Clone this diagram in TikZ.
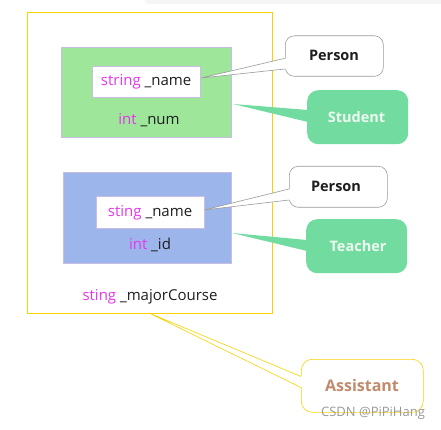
\documentclass[tikz,border=0pt]{standalone}
\usepackage{fontspec}
\setmainfont{Open Sans}
\usetikzlibrary{calc}
\begin{document}
\begin{tikzpicture}[x=1pt,y=-1pt,
  boxline/.style={draw=boxborder,line width=0.7pt,inner sep=0pt,anchor=north west},
  lbl/.style={font=\fontsize{15}{17}\selectfont,text=txtdark,inner sep=0pt},
  callgray/.style={draw=callgrayc,fill=white,line width=0.6pt,rounded corners=9pt,inner sep=0pt,anchor=north west},
  callgreen/.style={fill=calgreen,rounded corners=11pt,inner sep=0pt,anchor=north west},
  callyel/.style={draw=yel,fill=white,line width=0.6pt,rounded corners=11pt,inner sep=0pt,anchor=north west},
  ctext/.style={font=\bfseries\fontsize{14.5}{16}\selectfont,inner sep=0pt}]
\definecolor{boxborder}{HTML}{C9BDE6}
\definecolor{txtdark}{HTML}{1E1E1E}
\definecolor{kwmag}{HTML}{E636EC}
\definecolor{gfill}{HTML}{9EE69A}
\definecolor{bfill}{HTML}{9CB5EA}
\definecolor{yel}{HTML}{F7D200}
\definecolor{callgrayc}{HTML}{9A9A9A}
\definecolor{calgreen}{HTML}{72DBA0}
\definecolor{calgtext}{HTML}{EEF9F0}
\definecolor{asstext}{HTML}{C08B6C}
\useasboundingbox (0,0) rectangle (441,430);
\fill[black!4,rounded corners=3pt] (145,-4) rectangle (445,4);
% outer assistant box
\node[draw=yel,line width=0.7pt,inner sep=0pt,anchor=north west,minimum width=245pt,minimum height=300.5pt] (outer) at (26.5,12.5) {};
% student block
\node[boxline,fill=gfill,minimum width=170pt,minimum height=90pt] (green) at (61,47) {};
\node[boxline,fill=white,minimum width=108.5pt,minimum height=31pt] (name1) at (91.5,66) {};
\node[lbl] (name1t) at (name1.center) {\textcolor{kwmag}{string} \_name};
\node[lbl] (num) at (149,120) {\textcolor{kwmag}{int} \_num};
% teacher block
\node[boxline,fill=bfill,minimum width=168pt,minimum height=90pt] (blue) at (63,172.5) {};
\node[boxline,fill=white,minimum width=107.5pt,minimum height=32pt] (name2) at (96,196) {};
\node[lbl] (name2t) at (name2.center) {\textcolor{kwmag}{sting} \_name};
\node[lbl] (idt) at (150,245) {\textcolor{kwmag}{int} \_id};
\node[lbl] (major) at (150,297) {\textcolor{kwmag}{sting} \_majorCourse};
% callouts
\node[callgray,minimum width=98pt,minimum height=40.5pt] (person1) at (285,35.5) {};
\node[ctext,text=txtdark] (p1t) at (334,55) {Person};
\node[callgreen,minimum width=101pt,minimum height=54pt] (student) at (307,90) {};
\node[ctext,text=calgtext] (st) at (356.5,117.5) {Student};
\node[callgray,minimum width=98pt,minimum height=41pt] (person2) at (289,166) {};
\node[ctext,text=txtdark] (p2t) at (336,186) {Person};
\node[callgreen,minimum width=101pt,minimum height=54pt] (teacher) at (306,219) {};
\node[ctext,text=calgtext] (tt) at (358,246) {Teacher};
\node[callyel,minimum width=122pt,minimum height=53pt] (assist) at (301,359) {};
\node[ctext,text=asstext,font=\bfseries\fontsize{16}{18}\selectfont] (at) at (362,385.5) {Assistant};
% pointer tips
\coordinate (tip1) at (201,78);
\coordinate (tip2) at (233,104);
\coordinate (tip3) at (204,210);
\coordinate (tip4) at (232,233);
\coordinate (tip5) at (149,313);
% pointers
\fill[white] ($(person1.north west)+(1.5,22.8)$) -- (tip1) -- ($(person1.north west)+(1.5,33.5)$) -- cycle;
\draw[callgrayc,line width=0.6pt] ($(person1.north west)+(0,22.8)$) -- (tip1) -- ($(person1.north west)+(0,33.5)$);
\fill[calgreen] ($(student.north west)+(1,20)$) -- (tip2) -- ($(student.north west)+(1,32)$) -- cycle;
\fill[white] ($(person2.north west)+(1.5,23)$) -- (tip3) -- ($(person2.north west)+(1.5,34)$) -- cycle;
\draw[callgrayc,line width=0.6pt] ($(person2.north west)+(0,23)$) -- (tip3) -- ($(person2.north west)+(0,34)$);
\fill[calgreen] ($(teacher.north west)+(1,21)$) -- (tip4) -- ($(teacher.north west)+(1,32)$) -- cycle;
\fill[white] ($(assist.north west)+(1.5,17.5)$) -- (tip5) -- ($(assist.north west)+(1.5,28.5)$) -- cycle;
\draw[yel,line width=0.6pt] ($(assist.north west)+(0,17.5)$) -- (tip5) -- ($(assist.north west)+(0,28.5)$);
\node[text=black!40,font=\fontsize{13}{15}\selectfont,inner sep=0pt] (wm) at (373,413) {CSDN @PiPiHang};
\end{tikzpicture}
\end{document}
